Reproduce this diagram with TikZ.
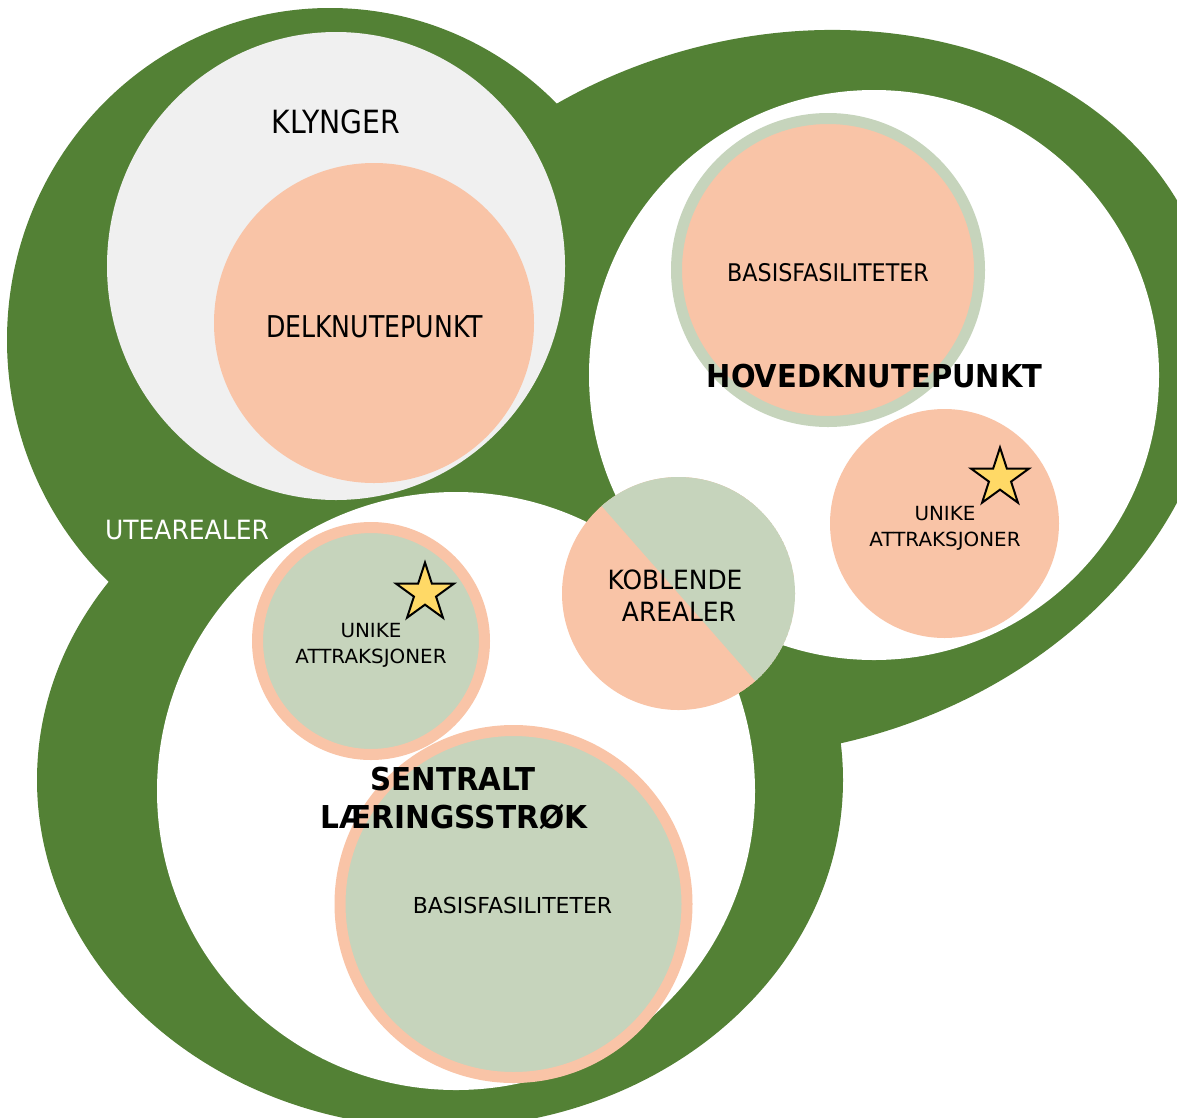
\documentclass[tikz,border=0pt]{standalone}
\usepackage{fontspec}
\usepackage{graphicx}
\setmainfont{DejaVu Sans}
\usetikzlibrary{shapes.geometric}
\definecolor{dkgreen}{HTML}{538135}
\definecolor{salmon}{HTML}{F9C4A7}
\definecolor{sage}{HTML}{C6D4BC}
\definecolor{lgrey}{HTML}{F0F0F0}
\definecolor{gold}{HTML}{FFD966}
\newcommand{\lbl}[3]{\fontsize{#1}{#1}\selectfont\scalebox{#2}[1]{#3}}
\tikzset{
  txt/.style={inner sep=0pt, outer sep=0pt, anchor=base, text=black},
  wtxt/.style={txt, text=white},
  starmark/.style={star, star points=5, star point ratio=2.618, minimum size=61pt, inner sep=0pt, draw=black, line width=2pt, fill=gold},
  ringsage/.style={fill=salmon, draw=sage, line width=11pt},
  ringsalmon/.style={fill=sage, draw=salmon, line width=11pt},
}
\begin{document}
\begin{tikzpicture}[x=1pt,y=-1pt]
\useasboundingbox (0,0) rectangle (1177,1117);
\fill[white] (0,0) rectangle (1177,1117);
% green outer shapes
\fill[dkgreen] (330,340) ellipse[x radius=323, y radius=332];
\fill[dkgreen, rotate around={16.5:(776.4,393.4)}] (776.4,393.4) ellipse[x radius=448, y radius=355];
\fill[dkgreen] (440,780) ellipse[x radius=403, y radius=348];
% white interiors
\fill[white] (874,375) circle[radius=285];
\fill[white] (456,791) circle[radius=299];
% klynger
\fill[lgrey] (336,266) ellipse[x radius=229, y radius=234];
\fill[salmon] (374,323) circle[radius=160];
% hovedknutepunkt contents
\filldraw[ringsage] (828,270) circle[radius=151.5];
\fill[salmon] (944.5,523.5) circle[radius=114.5];
% sentralt laeringsstrok contents
\filldraw[ringsalmon] (371,641) circle[radius=113.5];
\filldraw[ringsalmon] (513.5,904) circle[radius=173.5];
% koblende arealer
\begin{scope}
\clip (678.5,593.5) circle[radius=116.5];
\fill[salmon] (678.5,593.5) circle[radius=116.5];
\fill[sage] (546.5,443.2) -- (810.5,743.8) -- (960.7,611.8) -- (696.7,311.2) -- cycle;
\end{scope}
% stars
\node[starmark] (starR) at (1000,478) {};
\node[starmark] (starB) at (425,593) {};
% texts
\node[txt] (klynger) at (336,133) {\lbl{32}{0.884}{KLYNGER}};
\node[txt] (delk) at (374.5,337) {\lbl{30}{0.84}{DELKNUTEPUNKT}};
\node[wtxt] (ute) at (187,539) {\lbl{26.5}{0.944}{UTEAREALER}};
\node[txt] (kob1) at (675,589) {\lbl{26.5}{0.94}{KOBLENDE}};
\node[txt] (kob2) at (679,621) {\lbl{26.5}{0.94}{AREALER}};
\node[txt] (basisR) at (828,281) {\lbl{24.3}{0.916}{BASISFASILITETER}};
\node[txt] (hoved) at (874.5,387) {\lbl{31.5}{0.92}{\bfseries HOVEDKNUTEPUNKT}};
\node[txt] (unikR1) at (945,520) {\lbl{19.5}{1.02}{UNIKE}};
\node[txt] (unikR2) at (945,546) {\lbl{19.5}{1.02}{ATTRAKSJONER}};
\node[txt] (unikB1) at (371,637) {\lbl{19.5}{1.02}{UNIKE}};
\node[txt] (unikB2) at (371,663) {\lbl{19.5}{1.02}{ATTRAKSJONER}};
\node[txt] (sent1) at (453,790) {\lbl{31.5}{0.93}{\bfseries SENTRALT}};
\node[txt] (sent2) at (454,828) {\lbl{31.5}{0.94}{\bfseries LÆRINGSSTRØK}};
\node[txt] (basisB) at (512.5,913) {\lbl{22}{1.0}{BASISFASILITETER}};
\end{tikzpicture}
\end{document}
